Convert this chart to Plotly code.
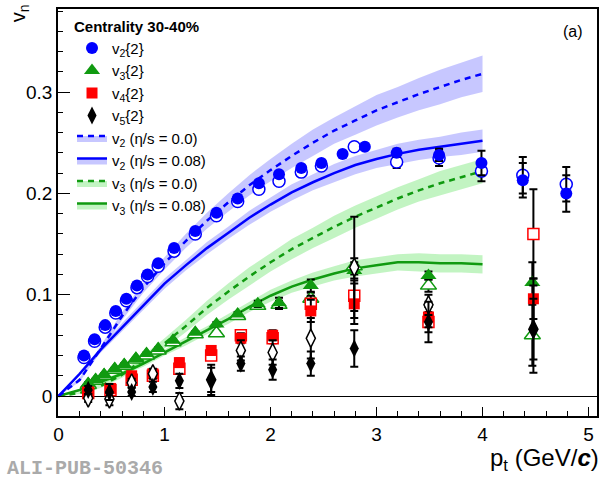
import plotly.graph_objects as go

# ---------------- data ----------------
# v2{2} filled (blue circles)
v2_pt  = [0.24, 0.34, 0.44, 0.54, 0.64, 0.74, 0.84, 0.94, 1.09, 1.29, 1.49, 1.69, 1.89, 2.08, 2.29, 2.48, 2.68, 2.89, 3.19, 3.59, 3.99, 4.38, 4.79]
v2_val = [0.040, 0.056, 0.070, 0.084, 0.096, 0.109, 0.120, 0.131, 0.146, 0.163, 0.181, 0.195, 0.210, 0.219, 0.225, 0.230, 0.239, 0.246, 0.240, 0.238, 0.230, 0.213, 0.200]
v2_err = [0.001, 0.001, 0.001, 0.001, 0.001, 0.001, 0.001, 0.001, 0.001, 0.001, 0.001, 0.001, 0.001, 0.002, 0.002, 0.002, 0.002, 0.003, 0.004, 0.006, 0.012, 0.017, 0.018]
# v2 open (blue open circles)
v2o_pt  = [0.24, 0.34, 0.44, 0.54, 0.64, 0.74, 0.84, 0.94, 1.09, 1.29, 1.49, 1.69, 1.89, 2.08, 2.29, 2.48, 2.79, 3.19, 3.59, 3.99, 4.38, 4.79]
v2o_val = [0.038, 0.054, 0.068, 0.082, 0.094, 0.107, 0.118, 0.128, 0.143, 0.160, 0.178, 0.192, 0.204, 0.212, 0.221, 0.227, 0.246, 0.231, 0.235, 0.222, 0.218, 0.209]
v2o_err = [0.001, 0.001, 0.001, 0.001, 0.001, 0.001, 0.001, 0.001, 0.001, 0.001, 0.001, 0.001, 0.002, 0.002, 0.002, 0.002, 0.003, 0.006, 0.008, 0.010, 0.018, 0.017]

# v3{2} (green triangles)
v3_pt  = [0.28, 0.35, 0.43, 0.53, 0.62, 0.73, 0.83, 0.94, 1.08, 1.29, 1.49, 1.69, 1.88, 2.08, 2.38, 2.79, 3.49, 4.47]
v3_val = [0.0125, 0.016, 0.021, 0.027, 0.031, 0.037, 0.042, 0.047, 0.055, 0.063, 0.071, 0.081, 0.091, 0.092, 0.109, 0.124, 0.119, 0.112]
v3_err = [0.001, 0.001, 0.001, 0.001, 0.001, 0.001, 0.001, 0.001, 0.001, 0.001, 0.002, 0.002, 0.003, 0.005, 0.006, 0.008, 0.004, 0.020]
v3o_pt  = [0.28, 0.35, 0.43, 0.53, 0.62, 0.73, 0.83, 0.94, 1.08, 1.29, 1.49, 1.69, 1.88, 2.08, 2.38, 2.79, 3.49, 4.47]
v3o_val = [0.011, 0.015, 0.020, 0.026, 0.030, 0.036, 0.040, 0.045, 0.053, 0.061, 0.062, 0.079, 0.089, 0.090, 0.096, 0.128, 0.109, 0.060]
v3o_err = [0.001, 0.001, 0.001, 0.001, 0.001, 0.001, 0.001, 0.001, 0.001, 0.001, 0.002, 0.002, 0.003, 0.004, 0.006, 0.008, 0.006, 0.030]

# v4{2} (red squares)
v4_pt  = [0.28, 0.49, 0.69, 0.89, 1.14, 1.44, 1.72, 2.02, 2.38, 2.79, 3.49, 4.48]
v4_val = [0.004, 0.0075, 0.020, 0.022, 0.033, 0.045, 0.057, 0.060, 0.084, 0.091, 0.078, 0.096]
v4_err = [0.002, 0.002, 0.003, 0.003, 0.004, 0.004, 0.005, 0.005, 0.011, 0.020, 0.010, 0.020]
v4o_pt  = [0.28, 0.49, 0.69, 0.89, 1.14, 1.44, 1.72, 2.02, 2.38, 2.79, 3.49, 4.48]
v4o_val = [0.003, 0.006, 0.016, 0.020, 0.027, 0.040, 0.060, 0.057, 0.091, 0.099, 0.073, 0.160]
v4o_err = [0.002, 0.002, 0.003, 0.003, 0.004, 0.004, 0.005, 0.005, 0.008, 0.015, 0.010, 0.044]

# v5{2} (black diamonds)
v5_pt  = [0.28, 0.48, 0.69, 0.89, 1.14, 1.44, 1.72, 2.02, 2.38, 2.79, 3.49, 4.48]
v5_val = [0.006, 0.004, 0.004, 0.009, 0.015, 0.016, 0.032, 0.026, 0.032, 0.047, 0.073, 0.066]
v5_err = [0.004, 0.008, 0.004, 0.005, 0.007, 0.015, 0.007, 0.010, 0.012, 0.018, 0.020, 0.043]
v5o_pt  = [0.28, 0.48, 0.69, 0.89, 1.14, 1.44, 1.72, 2.02, 2.38, 2.79, 3.49, 4.48]
v5o_val = [-0.002, -0.003, 0.013, 0.022, -0.005, 0.016, 0.045, 0.043, 0.057, 0.127, 0.090, 0.066]
v5o_err = [0.004, 0.006, 0.004, 0.005, 0.008, 0.012, 0.010, 0.012, 0.020, 0.050, 0.010, 0.030]

# hydro calculations (centre and band half-width)
th_pt = [0.0, 0.2, 0.4, 0.6, 0.8, 1.0, 1.2, 1.4, 1.6, 1.8, 2.0, 2.2, 2.4, 2.6, 2.8, 3.0, 3.2, 3.4, 3.6, 3.8, 4.0]
v2_ideal   = [0, 0.016, 0.047, 0.079, 0.107, 0.131, 0.153, 0.173, 0.191, 0.208, 0.223, 0.237, 0.250, 0.262, 0.272, 0.282, 0.290, 0.298, 0.305, 0.312, 0.318]
v2_ideal_w = [0, 0.002, 0.003, 0.004, 0.005, 0.006, 0.007, 0.008, 0.009, 0.010, 0.011, 0.012, 0.013, 0.013, 0.014, 0.015, 0.015, 0.016, 0.017, 0.017, 0.018]
v2_visc    = [0, 0.022, 0.046, 0.068, 0.090, 0.111, 0.129, 0.146, 0.161, 0.176, 0.189, 0.201, 0.211, 0.220, 0.228, 0.234, 0.239, 0.243, 0.246, 0.249, 0.252]
v2_visc_w  = [0, 0.002, 0.003, 0.004, 0.004, 0.005, 0.005, 0.006, 0.006, 0.007, 0.007, 0.008, 0.008, 0.009, 0.009, 0.009, 0.010, 0.010, 0.010, 0.011, 0.011]
v3_ideal   = [0, 0.003, 0.010, 0.021, 0.036, 0.052, 0.069, 0.087, 0.103, 0.118, 0.132, 0.145, 0.156, 0.167, 0.177, 0.186, 0.195, 0.203, 0.210, 0.216, 0.222]
v3_ideal_w = [0, 0.001, 0.002, 0.003, 0.004, 0.005, 0.006, 0.007, 0.008, 0.009, 0.009, 0.010, 0.010, 0.011, 0.011, 0.011, 0.011, 0.011, 0.012, 0.012, 0.012]
v3_visc    = [0, 0.006, 0.014, 0.022, 0.032, 0.043, 0.054, 0.065, 0.076, 0.088, 0.099, 0.108, 0.115, 0.121, 0.126, 0.129, 0.132, 0.132, 0.131, 0.131, 0.130]
v3_visc_w  = [0, 0.001, 0.002, 0.002, 0.003, 0.003, 0.004, 0.004, 0.005, 0.005, 0.006, 0.006, 0.007, 0.007, 0.008, 0.008, 0.008, 0.009, 0.009, 0.009, 0.009]

x_ticks = [0, 1, 2, 3, 4, 5]
y_ticks = [0, 0.1, 0.2, 0.3]
y_tick_labels = ["0", "0.1", "0.2", "0.3"]

BLUE = "#0000ff"
GREEN = "#109a10"
RED = "#ff0000"
BLACK = "#000000"
BAND_BLUE = "rgba(0,0,255,0.22)"
BAND_GREEN = "rgba(0,210,0,0.24)"
FONT = "Liberation Sans, Arial, sans-serif"

fig = go.Figure()


def add_band(center, width, color, band, dash, name, rank):
    up = [c + w for c, w in zip(center, width)]
    lo = [c - w for c, w in zip(center, width)]
    fig.add_trace(go.Scatter(x=th_pt, y=up, mode="lines", line=dict(width=0, color=band),
                             showlegend=False, hoverinfo="skip"))
    fig.add_trace(go.Scatter(x=th_pt, y=center, mode="lines", name=name,
                             line=dict(color=color, width=2.5, dash=dash),
                             fill="tonexty", fillcolor=band, legendrank=rank))
    fig.add_trace(go.Scatter(x=th_pt, y=lo, mode="lines", line=dict(width=0, color=band),
                             fill="tonexty", fillcolor=band, showlegend=False, hoverinfo="skip"))


add_band(v3_visc, v3_visc_w, GREEN, BAND_GREEN, "solid", "v<sub>3</sub> (η/s = 0.08)", 8)
add_band(v3_ideal, v3_ideal_w, GREEN, BAND_GREEN, "6px,5px", "v<sub>3</sub> (η/s = 0.0)", 7)
add_band(v2_visc, v2_visc_w, BLUE, BAND_BLUE, "solid", "v<sub>2</sub> (η/s = 0.08)", 6)
add_band(v2_ideal, v2_ideal_w, BLUE, BAND_BLUE, "6px,5px", "v<sub>2</sub> (η/s = 0.0)", 5)


def add_pts(x, y, e, symbol, color, size, is_open, name, rank):
    if is_open:
        marker = dict(symbol=symbol, size=size, color="white", line=dict(color=color, width=1.5))
    else:
        marker = dict(symbol=symbol, size=size, color=color, line=dict(width=0))
    fig.add_trace(go.Scatter(
        x=x, y=y, mode="markers", name=name, marker=marker,
        error_y=dict(type="data", array=e, color=BLACK, thickness=2, width=4),
        showlegend=not is_open, legendrank=rank))


add_pts(v2o_pt, v2o_val, v2o_err, "circle", BLUE, 12, True, "v2 open", 100)
add_pts(v2_pt, v2_val, v2_err, "circle", BLUE, 12, False, "v<sub>2</sub>{2}", 1)
add_pts(v3o_pt, v3o_val, v3o_err, "triangle-up", GREEN, 14, True, "v3 open", 100)
add_pts(v3_pt, v3_val, v3_err, "triangle-up", GREEN, 14, False, "v<sub>3</sub>{2}", 2)
add_pts(v4o_pt, v4o_val, v4o_err, "square", RED, 11, True, "v4 open", 100)
add_pts(v4_pt, v4_val, v4_err, "square", RED, 11, False, "v<sub>4</sub>{2}", 3)
add_pts(v5o_pt, v5o_val, v5o_err, "diamond-tall", BLACK, 13, True, "v5 open", 100)
add_pts(v5_pt, v5_val, v5_err, "diamond-tall", BLACK, 13, False, "v<sub>5</sub>{2}", 4)

fig.update_layout(
    width=606, height=479,
    margin=dict(l=58, r=9, t=7, b=63),
    paper_bgcolor="white", plot_bgcolor="white",
    font=dict(family=FONT, color="black"),
    showlegend=True,
    legend=dict(x=0.026, y=0.992, xanchor="left", yanchor="top",
                bgcolor="rgba(0,0,0,0)", font=dict(size=15, family=FONT),
                title=dict(text="<b>Centrality 30-40%</b>", font=dict(size=15, family=FONT)),
                traceorder="normal", itemwidth=30, tracegroupgap=0),
    xaxis=dict(range=[-0.005, 5.08], showgrid=False, zeroline=False,
               showline=True, mirror=True, linecolor="black", linewidth=1.5,
               ticks="inside", ticklen=9, tickwidth=1, tickcolor="black",
               tickvals=x_ticks, tickfont=dict(size=19, family=FONT),
               minor=dict(ticks="inside", ticklen=5, dtick=0.2, tickcolor="black", tickwidth=1)),
    yaxis=dict(range=[-0.0197, 0.382], showgrid=False,
               zeroline=True, zerolinecolor="black", zerolinewidth=1,
               showline=True, mirror=True, linecolor="black", linewidth=1.5,
               ticks="inside", ticklen=12, tickwidth=1, tickcolor="black",
               tickvals=y_ticks, ticktext=y_tick_labels, tickfont=dict(size=19, family=FONT),
               minor=dict(ticks="inside", ticklen=5, dtick=0.02, tickcolor="black", tickwidth=1)),
    annotations=[
        dict(text="v<sub>n</sub>", xref="paper", yref="paper", x=-0.072, y=0.99,
             textangle=-90, showarrow=False, font=dict(size=20, family=FONT),
             xanchor="center", yanchor="middle"),
        dict(text="p<sub>t</sub> (GeV/<b><i>c</i></b>)", xref="paper", yref="paper",
             x=1.008, y=-0.108, showarrow=False, font=dict(size=24, family=FONT),
             xanchor="right", yanchor="middle"),
        dict(text="(a)", xref="paper", yref="paper", x=0.955, y=0.944, showarrow=False,
             font=dict(size=16, family=FONT), xanchor="center", yanchor="middle"),
        dict(text="<b>ALI-PUB-50346</b>", xref="paper", yref="paper", x=-0.099, y=-0.13,
             showarrow=False, font=dict(size=20, family="Liberation Mono, Courier New, monospace",
                                        color="#aaaaaa"),
             xanchor="left", yanchor="middle"),
    ],
)

fig.write_html("out.html", config={"displayModeBar": False},
               post_script="document.body.style.margin='0';document.body.style.padding='0';")
